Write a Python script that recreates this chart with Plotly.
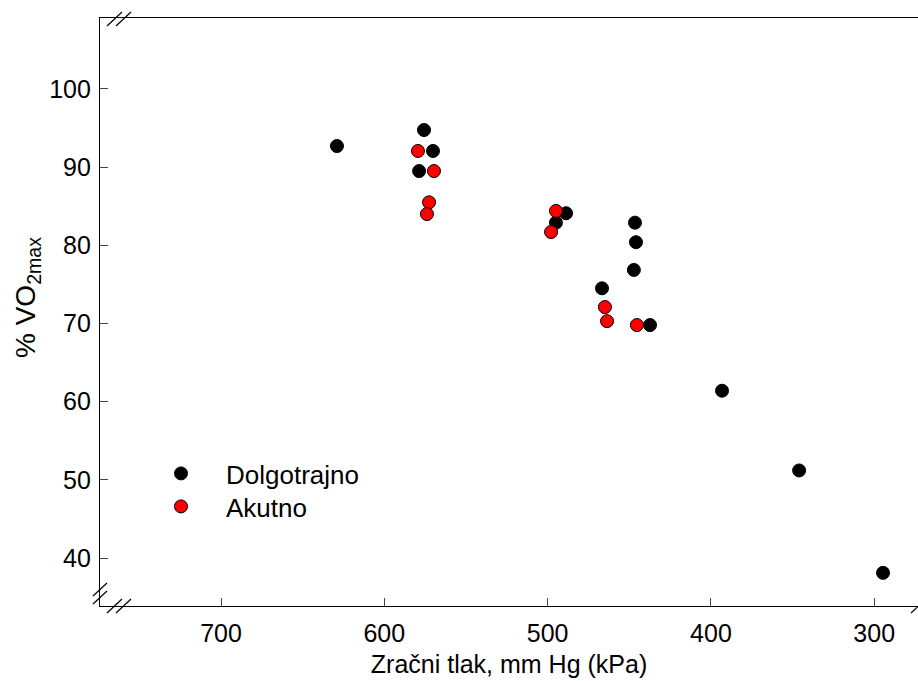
import plotly.graph_objects as go

# Data
dolg_x = [629.0, 575.7, 570.2, 578.7, 488.7, 494.9, 446.5, 445.9, 447.2, 466.7, 437.3, 393.2, 346.0, 294.6]
dolg_y = [92.7, 94.75, 92.07, 89.5, 84.1, 82.9, 82.9, 80.4, 76.85, 74.5, 69.8, 61.4, 51.2, 38.1]
akut_x = [579.4, 569.6, 572.6, 573.9, 494.9, 497.9, 464.9, 463.6, 445.3]
akut_y = [92.07, 89.5, 85.5, 84.0, 84.4, 81.7, 72.1, 70.3, 69.8]

x_ticks = [700, 600, 500, 400, 300]
y_ticks = [40, 50, 60, 70, 80, 90, 100]

FONT = "Arial, Liberation Sans, sans-serif"
FS = 25

fig = go.Figure()
fig.add_trace(go.Scatter(
    x=dolg_x, y=dolg_y, mode="markers", name="Dolgotrajno", legend="legend",
    marker=dict(size=13, color="black", line=dict(color="black", width=1)),
))
fig.add_trace(go.Scatter(
    x=akut_x, y=akut_y, mode="markers", name="Akutno", legend="legend2",
    marker=dict(size=13, color="#ff0000", line=dict(color="black", width=1)),
))

L, T, B = 100, 18, 75
W, H = 918, 681
PW = W - L
PH = H - T - B

def px(xp):
    return (xp - L) / PW

def py(yp):
    return (H - B - yp) / PH

shapes = []
def slash(x0, y0, x1, y1):
    shapes.append(dict(type="line", xref="paper", yref="paper",
                       x0=px(x0), y0=py(y0), x1=px(x1), y1=py(y1),
                       line=dict(color="black", width=1.2)))

# break marks (top-left)
slash(107, 26, 122, 12)
slash(116, 26, 131, 12)
# bottom-left on y axis
slash(93, 596, 107, 583)
slash(93, 604, 107, 591)
# bottom-left on x axis
slash(107, 613, 122, 599)
slash(116, 613, 131, 599)
# bottom-right (clipped)
slash(911, 613, 926, 599)

leg_common = dict(xanchor="left", yanchor="top", bgcolor="rgba(0,0,0,0)",
                  font=dict(size=26, family=FONT), itemwidth=80)

fig.update_layout(
    width=W, height=H,
    margin=dict(l=L, r=0, t=T, b=B, pad=0),
    paper_bgcolor="white", plot_bgcolor="white",
    font=dict(family=FONT, size=FS, color="black"),
    showlegend=True,
    legend=dict(x=px(136), y=py(450), **leg_common),
    legend2=dict(x=px(136), y=py(483), **leg_common),
    xaxis=dict(
        range=[774.1, 273.2], tickvals=x_ticks, ticks="inside", ticklen=8,
        tickcolor="#444", tickwidth=1, showline=True, linecolor="black",
        linewidth=1.3, mirror=True, showgrid=False, zeroline=False,
        tickfont=dict(size=FS, family=FONT), ticklabelstandoff=5,
        title=dict(text="Zračni tlak, mm Hg (kPa)", standoff=9,
                   font=dict(size=FS, family=FONT)),
    ),
    yaxis=dict(
        range=[33.86, 109.08], tickvals=y_ticks, ticks="inside", ticklen=8,
        tickcolor="#444", tickwidth=1, showline=True, linecolor="black",
        linewidth=1.3, mirror=False, showgrid=False, zeroline=False,
        tickfont=dict(size=FS, family=FONT), ticklabelstandoff=3,
    ),
    annotations=[dict(
        text="% VO<sub>2max</sub>", textangle=-90, showarrow=False,
        xref="paper", yref="paper", x=px(27), y=py(298),
        xanchor="center", yanchor="middle",
        font=dict(size=28, family=FONT),
    )],
    shapes=shapes,
)

fig.write_html("out.html")
